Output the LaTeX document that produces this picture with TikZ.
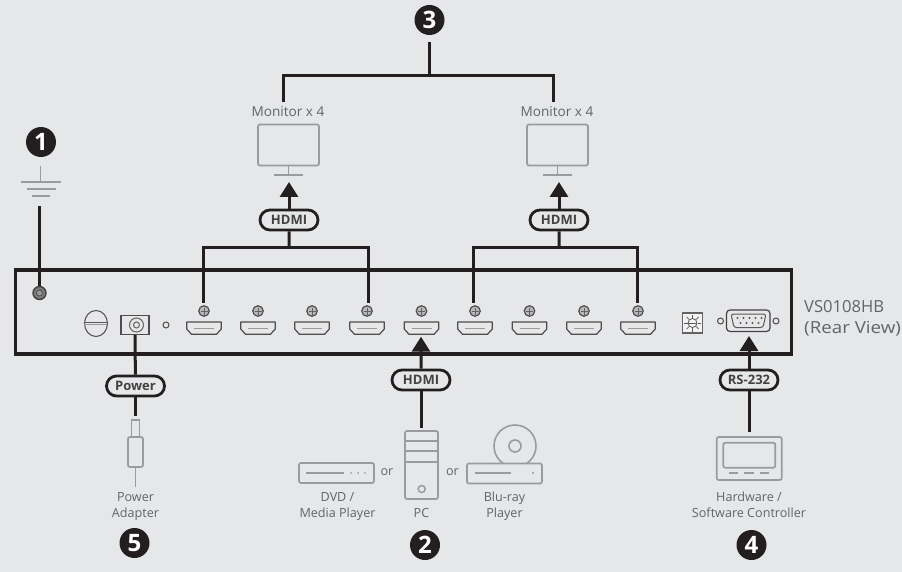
\documentclass[tikz,border=0pt]{standalone}
\usepackage{fontspec}
\usepackage{graphicx}
\setmainfont{Open Sans}
\usetikzlibrary{arrows.meta,shapes.misc,shapes.geometric}
\definecolor{bg}{HTML}{E6E7E9}
\definecolor{ink}{HTML}{231F20}
\definecolor{dev}{HTML}{9A9B9D}
\definecolor{txt}{HTML}{636466}
\newcommand{\ls}{\strut}
\tikzset{
  wire/.style={draw=ink,line width=3pt},
  feed/.style={wire,-{Triangle[width=18pt,length=15pt]}},
  devline/.style={draw=dev,line width=1.7pt,rounded corners=2pt},
  panelline/.style={draw=ink!80,line width=1.2pt},
  tag/.style={rounded rectangle,draw=ink,fill=bg,line width=2.8pt,minimum width=58pt,minimum height=20pt,inner sep=0pt,font=\fontsize{13}{13}\selectfont\bfseries,text=ink!85},
  badge/.style={circle,fill=ink,minimum size=30pt,inner sep=0pt,text=white,font=\fontsize{24}{24}\selectfont\bfseries},
  lbl/.style={text=txt,align=center,font=\fontsize{12.6}{16}\selectfont,inner sep=0pt},
  monl/.style={lbl,font=\fontsize{13.6}{16}\selectfont},
  screw/.style={circle,draw=ink!80,fill=dev!70!white,line width=1.2pt,minimum size=10.5pt,inner sep=0pt},
  ledhole/.style={circle,draw=ink!80,line width=1pt,minimum size=6pt,inner sep=0pt},
}
\begin{document}
\begin{tikzpicture}[x=1pt,y=-1pt]
\useasboundingbox[fill=bg] (0,0) rectangle (902,572);

% panel
\node[draw=ink,line width=3.2pt,minimum width=776pt,minimum height=84pt,inner sep=0pt] (panel) at (403.7,312) {};
\node[text=txt,align=left,anchor=west,inner sep=0pt,font=\fontsize{16.6}{21}\selectfont] (vs) at (804,318.3) {VS0108HB\\\scalebox{1.13}[1]{(Rear View)}};

% ground stud
\node[circle,draw=ink!85,fill=ink!60,line width=1.4pt,minimum size=13pt,inner sep=0pt] (stud) at (39.5,293) {};
\node[circle,draw=ink!80,fill=dev,line width=.8pt,minimum size=6pt,inner sep=0pt] (studin) at (39.5,293) {};

% handle, jack, led
\node[ellipse,draw=ink!75,line width=1.1pt,minimum width=23pt,minimum height=26pt,inner sep=0pt] (handle) at (96,323.5) {};
\draw[draw=ink!75,line width=1.1pt] (handle.west) ++(0,-.8) -- ++(23,0);
\draw[draw=dev,line width=1.1pt] (handle.west) ++(0,1) -- ++(23,0);
\node[rectangle,draw=ink!80,line width=1.2pt,minimum width=28pt,minimum height=19pt,inner sep=0pt] (jack) at (135,325) {};
\node[circle,draw=ink!70,line width=1pt,minimum size=14pt,inner sep=0pt] (jackout) at (136.5,325) {};
\node[circle,draw=ink!70,line width=1pt,minimum size=6pt,inner sep=0pt] (jackin) at (136.5,325) {};
\node[ledhole] (led) at (166,325) {};

% hdmi ports and screws
\foreach \n/\x in {1/204,2/258,3/312,4/367,5/421.5,6/475,7/529.5,8/584,9/638}{
  \node[screw] (s\n) at (\x,311) {};
  \draw[ink!70,line width=.7pt] (\x-3.5,311) -- (\x+3.5,311) (\x,307.5) -- (\x,314.5);
  \draw[panelline,line join=round] (\x-17.3,322) -- (\x+17.3,322) -- (\x+17.3,329) -- (\x+12.5,334.3) -- (\x-12.5,334.3) -- (\x-17.3,329) -- cycle;
  \draw[dev,line width=1pt] (\x-10,328) -- (\x+10,328);
}

% rotary switch
\node[rectangle,draw=ink!70,fill=white!50!bg,line width=1.1pt,minimum size=20pt,inner sep=0pt] (rot) at (692.5,323) {};
\foreach \a in {0,45,...,315}{\draw[ink!75,line width=.7pt] (692.5,323) ++(\a:5pt) -- ++(\a:3.5pt);}
\node[circle,draw=ink!75,line width=.8pt,minimum size=9pt,inner sep=0pt] (rotin) at (692.5,323) {};
\draw[ink!75,line width=.8pt] (rotin.west) -- (rotin.east);

% serial port
\node[ledhole] (dbl) at (720.5,321) {};
\node[ledhole] (dbr) at (776,321) {};
\draw[ink!85,line width=1.2pt,rounded corners=3.5pt] (726.5,310) rectangle (770,331.5);
\draw[ink!75,line width=1pt,rounded corners=2.5pt] (731,314) -- (766,314) -- (763,327.5) -- (734,327.5) -- cycle;
\foreach \x in {737.5,743.5,749.5,755.5,761.5}{\fill[ink!75] (\x,318) circle (1.1pt);}
\foreach \x in {740.5,746.5,752.5,758.5}{\fill[ink!75] (\x,323) circle (1.1pt);}

% badges
\node[badge] (b1) at (41,142) {1};
\node[badge] (b2) at (425,545) {2};
\node[badge] (b3) at (429.5,20) {3};
\node[badge] (b4) at (751.5,545) {4};
\node[badge] (b5) at (134.5,543) {5};

% ground symbol
\coordinate (gtop) at (40.5,166);
\coordinate (gmid) at (40.5,182);
\draw[dev,line width=1.7pt] (gtop) -- (gmid) (21,182) -- (61,182) (26.5,189) -- (55.5,189) (32,196) -- (50,196);
\coordinate (gwire) at (39.5,206);
\draw[wire] (gwire) -- (stud.north);

% monitors
\node[monl] (mon1) at (288,113) {Monitor x 4\ls};
\node[monl] (mon2) at (557,113) {Monitor x 4\ls};
\node[rectangle,devline,minimum width=61pt,minimum height=41pt,inner sep=0pt] (scr1) at (288.5,145) {};
\node[rectangle,devline,minimum width=61pt,minimum height=41pt,inner sep=0pt] (scr2) at (557.5,145) {};
\foreach \n in {1,2}{
  \draw[dev,line width=1.7pt] (scr\n.south) -- ++(0,8.5) ++(-14.5,0) -- ++(29,0);
}

% monitor group wire
\coordinate (top) at (429.5,75.5);
\coordinate (topl) at (283.5,102);
\coordinate (topr) at (553,102);
\draw[wire,shorten <=7pt] (b3) -- (top);
\draw[wire,line join=miter] (topl) |- (top) -| (topr);

% HDMI output groups
\node[tag] (h1) at (289,220) {HDMI};
\node[tag] (h2) at (559,220) {HDMI};
\coordinate (t1) at (289,182);
\coordinate (t2) at (559,182);
\coordinate (j1) at (289,247.5);
\coordinate (j2) at (559,247.5);
\coordinate (d1) at (203.5,303);
\coordinate (d2) at (368.5,303);
\coordinate (d3) at (473,303);
\coordinate (d4) at (637.5,303);
\draw[wire,line join=miter] (j1) -| (d1);
\draw[wire,line join=miter] (j1) -| (d2);
\draw[wire,line join=miter] (j2) -| (d3);
\draw[wire,line join=miter] (j2) -| (d4);
\draw[wire] (j1) -- (h1);
\draw[wire] (j2) -- (h2);
\draw[feed] (h1) -- (t1);
\draw[feed] (h2) -- (t2);

% power
\node[tag] (pw) at (135.5,386) {Power};
\coordinate (pwe) at (135.5,416);
\draw[wire] (jack.south) -- (pw);
\draw[wire] (pw) -- (pwe);
\node[rectangle,draw=dev,line width=1.6pt,minimum width=8pt,minimum height=17pt,inner sep=0pt] (plug) at (135.5,428.5) {};
\node[rectangle,devline,minimum width=15pt,minimum height=30pt,inner sep=0pt] (plugb) at (135.5,452) {};
\coordinate (plugc) at (135.5,487);
\draw[dev,line width=1.5pt] (plugb) -- (plugc);
\node[lbl] (pwl) at (135.5,506.5) {Power\ls\\Adapter\ls};

% sources
\node[tag] (h3) at (421,380) {HDMI};
\coordinate (t3) at (421,336.7);
\coordinate (pcw) at (421,428);
\draw[feed] (h3) -- (t3);
\draw[wire] (h3) -- (pcw);
\node[rectangle,devline,minimum width=33pt,minimum height=68pt,inner sep=0pt] (pc) at (421.5,465) {};
\draw[dev,line width=1.5pt] (pc.west |- 0,441) -- (pc.east |- 0,441) (pc.west |- 0,451) -- (pc.east |- 0,451) (pc.west |- 0,462) -- (pc.east |- 0,462);
\node[circle,draw=dev,line width=1.5pt,minimum size=7pt,inner sep=0pt] (pcb) at (421.7,489) {};
\node[lbl] (pcl) at (421.5,514.5) {PC\ls};
\node[rectangle,devline,minimum width=75pt,minimum height=20pt,inner sep=0pt] (dvd) at (336.5,473) {};
\draw[dev,line width=1.3pt] (306,473) -- (344,473);
\foreach \x in {351,358,365}{\fill[dev] (\x,473) circle (1pt);}
\node[lbl] (dvdl) at (337.5,506.5) {DVD /\ls\\Media Player\ls};
\node[lbl] (or1) at (387,472) {or\ls};
\node[lbl] (or2) at (452.5,472) {or\ls};
\node[circle,draw=dev,line width=1.6pt,minimum size=42pt,inner sep=0pt] (disc) at (515,446) {};
\node[circle,draw=dev,line width=1.6pt,minimum size=12pt,inner sep=0pt] (hole) at (515,446) {};
\node[rectangle,devline,fill=bg,minimum width=75pt,minimum height=20pt,inner sep=0pt] (br) at (504.5,473.5) {};
\draw[dev,line width=1.3pt] (475,473) -- (511,473);
\fill[dev] (533,473) circle (1.2pt);
\node[lbl] (brl) at (504.5,506.5) {Blu-ray\ls\\Player\ls};

% controller
\node[tag] (rs) at (749,380) {RS-232};
\coordinate (t4) at (749,336);
\coordinate (cw) at (749,432);
\draw[feed] (rs) -- (t4);
\draw[wire] (rs) -- (cw);
\node[rectangle,devline,minimum width=65pt,minimum height=43pt,inner sep=0pt] (ctl) at (749.2,458.5) {};
\node[rectangle,devline,minimum width=52pt,minimum height=25pt,inner sep=0pt] (ctls) at (749.3,455.2) {};
\draw[dev,line width=1.3pt] (729,473) -- (738,473) (744,473) -- (754,473) (760,473) -- (769,473);
\node[lbl] (ctll) at (749,506.5) {Hardware /\ls\\Software Controller\ls};
\end{tikzpicture}
\end{document}
